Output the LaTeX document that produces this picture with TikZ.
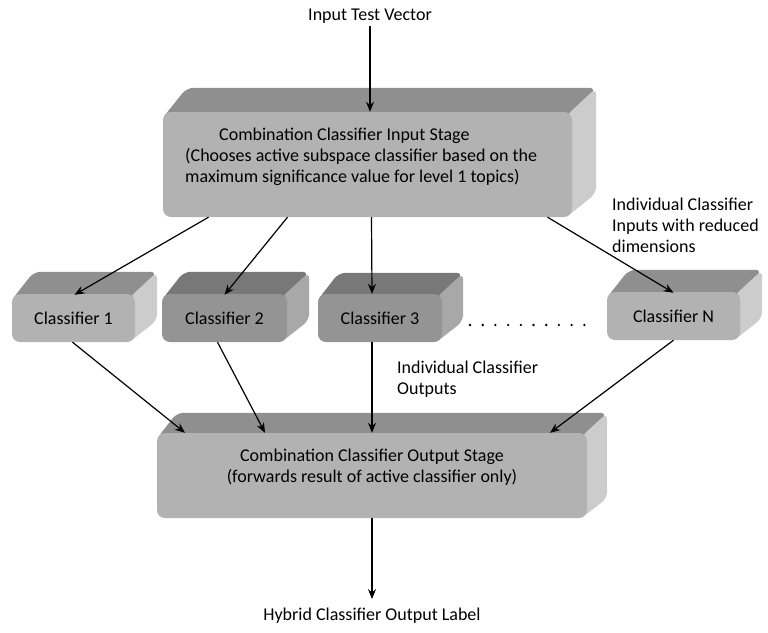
\documentclass[tikz,border=0pt]{standalone}
\usepackage{fontspec}
\setmainfont{Carlito}
\usetikzlibrary{positioning,arrows.meta,backgrounds}

\definecolor{frontlight}{gray}{0.70}
\definecolor{toplight}{gray}{0.56}
\definecolor{sidelight}{gray}{0.80}
\definecolor{frontdark}{gray}{0.58}
\definecolor{topdark}{gray}{0.47}
\definecolor{sidedark}{gray}{0.66}

\tikzstyle{front} = [rectangle, rounded corners=8pt, inner sep=0pt, text centered, font=\fontsize{18}{21}\selectfont]
\tikzstyle{boxtext} = [inner sep=0pt, font=\fontsize{18}{21}\selectfont]
\tikzstyle{note} = [inner sep=0pt, align=left, font=\fontsize{18}{21}\selectfont]
\tikzstyle{arrow} = [line width=1.2pt, -{Stealth[length=10pt,width=8pt]}]

% 3D faces behind a front node: #1 node, #2 depth, #3 top colour, #4 side colour
\newcommand{\boxfaces}[4]{%
  \begin{scope}[on background layer]
    \fill[#3, rounded corners=7pt] ([yshift=-6pt]#1.north west) -- ([xshift=#2,yshift=#2]#1.north west) -- ([xshift=#2,yshift=#2]#1.north east) -- ([yshift=-6pt]#1.north east) -- cycle;
    \fill[#4, rounded corners=7pt] ([xshift=-6pt,yshift=-4pt]#1.north east) -- ([xshift=#2,yshift=#2]#1.north east) -- ([xshift=#2,yshift=#2]#1.south east) -- ([xshift=-6pt]#1.south east) -- cycle;
  \end{scope}}

\begin{document}
\begin{tikzpicture}[x=1pt,y=-1pt]
  \useasboundingbox (0,0) rectangle (768,632);

  % input and stages
  \node (invec) [boxtext] at (370,16) {Input Test Vector};
  \node (instage) [front, fill=frontlight, minimum width=409pt, minimum height=105pt] at (367.5,164.5) {};
  \node (intext) [boxtext, align=left, anchor=north west] at (185,128) {\hspace{34pt}Combination Classifier Input Stage\\(Chooses active subspace classifier based on the\\maximum significance value for level 1 topics)};
  \boxfaces{instage}{24pt}{toplight}{sidelight}

  % classifiers
  \node (cl1) [front, fill=frontlight, minimum width=123pt, minimum height=48pt] at (73.5,318) {Classifier 1};
  \node (cl2) [front, fill=frontdark, minimum width=125pt, minimum height=48pt] at (224.5,318) {Classifier 2};
  \node (cl3) [front, fill=frontdark, minimum width=124pt, minimum height=48pt] at (380,318) {Classifier 3};
  \node (cln) [front, fill=frontlight, minimum width=133pt, minimum height=48pt] at (673.5,316) {Classifier N};
  \boxfaces{cl1}{22pt}{toplight}{sidelight}
  \boxfaces{cl2}{22pt}{topdark}{sidedark}
  \boxfaces{cl3}{21pt}{topdark}{sidedark}
  \boxfaces{cln}{22pt}{toplight}{sidelight}

  \foreach \i in {0,...,9}
    \fill (470+\i*12.7,325) circle (1.3pt);

  \node (outstage) [front, fill=frontlight, minimum width=430pt, minimum height=85pt] at (372,475.5) {};
  \node (outtext) [boxtext, align=center] at (372,467) {Combination Classifier Output Stage\\(forwards result of active classifier only)};
  \boxfaces{outstage}{20pt}{toplight}{sidelight}

  \node (outlabel) [boxtext] at (372,616) {Hybrid Classifier Output Label};

  % notes
  \node (innote) [note, anchor=north west] at (612,198) {Individual Classifier\\Inputs with reduced\\dimensions};
  \node (outnote) [note, anchor=north west] at (397,361) {Individual Classifier\\Outputs};

  % connectors
  \draw [arrow, shorten <=3pt] (invec) -- (instage.north -| invec);
  \draw [arrow] ([xshift=-159pt]instage.south) -- ([xshift=1pt,yshift=-1pt]cl1.north);
  \draw [arrow] ([xshift=-80pt]instage.south) -- ([xshift=0pt,yshift=-1pt]cl2.north);
  \draw [arrow] ([xshift=4pt]instage.south) -- (cl3.north -| 372,0);
  \draw [arrow] ([xshift=180pt]instage.south) -- ([yshift=-1pt]cln.north);
  \draw [arrow] ([xshift=-1pt]cl1.south) -- ([xshift=-187pt]outstage.north);
  \draw [arrow] ([xshift=-7pt]cl2.south) -- ([xshift=-107pt]outstage.north);
  \draw [arrow] (cl3.south -| 372,0) -- (outstage.north);
  \draw [arrow] (cln.south) -- ([xshift=178pt]outstage.north);
  \draw [arrow, shorten >=9pt] (outstage.south) -- (outlabel.north);
\end{tikzpicture}
\end{document}
